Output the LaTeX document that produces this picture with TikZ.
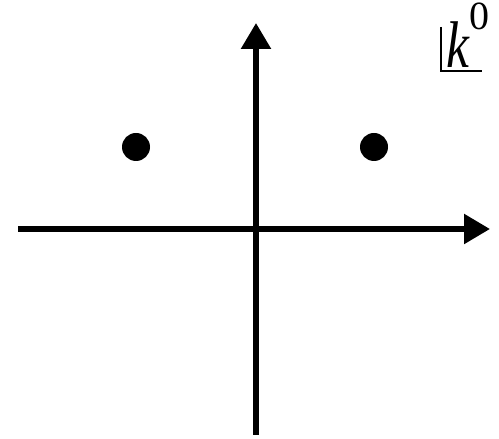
\documentclass[tikz,border=0pt]{standalone}
\usepackage{fontspec}
\setmainfont{Liberation Serif}
\usetikzlibrary{arrows.meta}

\begin{document}
\begin{tikzpicture}[
    x=1pt, y=1pt,
    axis/.style={line width=5.5pt, -{Triangle[length=26pt, width=29pt]}},
    pole/.style={circle, fill, inner sep=0pt, minimum size=28pt},
    corner/.style={line width=2.5pt},
    lbl/.style={inner sep=0pt, font=\fontsize{66}{66}\selectfont}
]
\useasboundingbox (0,0) rectangle (499,439);
% axes
\coordinate (xleft) at (18,210);
\coordinate (xright) at (490,210);
\coordinate (ybottom) at (256,4);
\coordinate (ytop) at (256,416);
\draw[axis] (xleft) -- (xright);
\draw[axis] (ybottom) -- (ytop);
% poles
\node[pole] (poleL) at (136,292) {};
\node[pole] (poleR) at (374,292) {};
% plane label
\node[lbl, anchor=base west] (kzero) at (446,371) {\scalebox{0.78}[1]{\textit{k}}\raisebox{38pt}{\fontsize{40}{40}\selectfont 0}};
\coordinate (ctop) at (441,412);
\coordinate (cend) at (482,368);
\draw[corner] (ctop) |- (cend);
\end{tikzpicture}
\end{document}
